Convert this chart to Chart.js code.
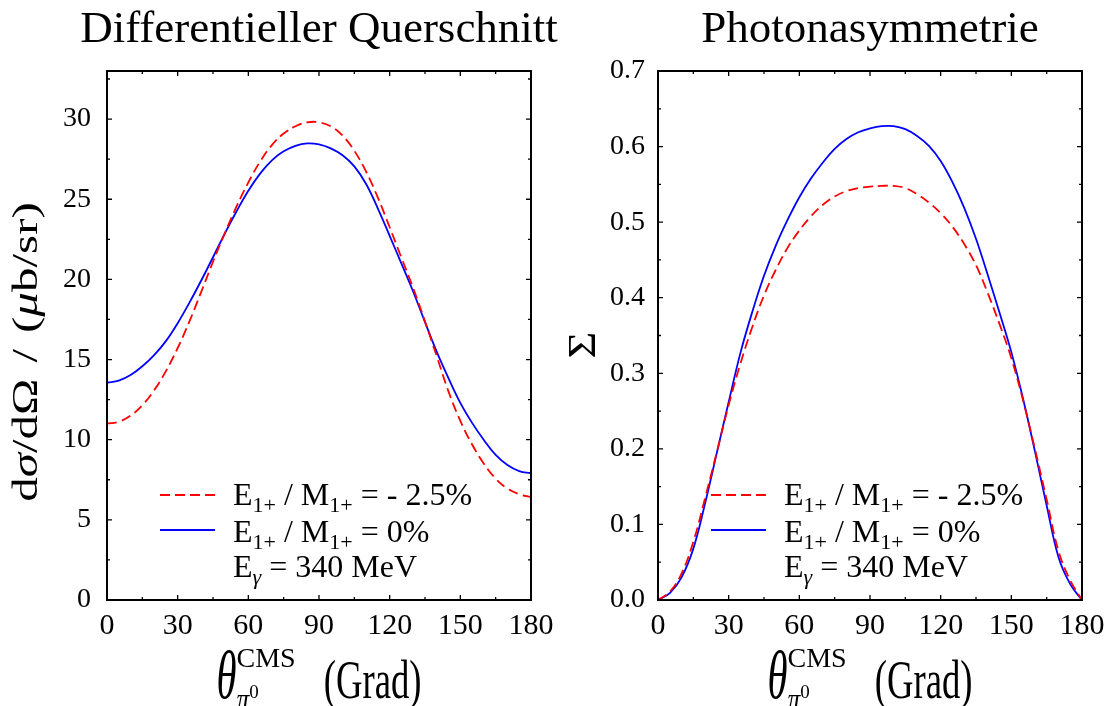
<!DOCTYPE html>
<html>
<head>
<meta charset="utf-8">
<script src="https://cdn.jsdelivr.net/npm/chart.js@4"></script>
<style>
  body { margin: 0; background: #fff; }
  #wrap { position: relative; width: 1107px; height: 706px; }
  #wrap canvas { position: absolute; left: 0; top: 0; }
  .box { position: absolute; left: 0; top: 0; width: 1107px; height: 706px; }
</style>
</head>
<body>
<div id="wrap">
  <div class="box"><canvas id="left"></canvas></div>
  <div class="box"><canvas id="right"></canvas></div>
</div>
<script>
// pion angle in CMS (Grad)
const angles = [0, 5, 10, 15, 20, 25, 30, 35, 40, 45, 50, 55, 60, 65, 70, 75, 80, 85, 90,
  95, 100, 105, 110, 115, 120, 125, 130, 135, 140, 145, 150, 155, 160, 165, 170, 175, 180];

// dsigma/dOmega in mub/sr, E1+/M1+ = -2.5 %
const dsigmaNeg = [11.0, 11.12, 11.5, 12.15, 13.08, 14.28, 15.72, 17.38, 19.22, 21.1, 22.88, 24.55, 26.05,
  27.35, 28.38, 29.1, 29.55, 29.8, 29.8, 29.55, 28.97, 28.02, 26.72, 25.1, 23.25, 21.35, 19.45, 17.38,
  15.2, 13.0, 11.17, 9.7, 8.5, 7.57, 6.95, 6.6, 6.42];
// dsigma/dOmega in mub/sr, E1+/M1+ = 0 %
const dsigmaZero = [13.55, 13.68, 14.03, 14.58, 15.28, 16.15, 17.27, 18.55, 19.93, 21.38, 22.86, 24.25, 25.53,
  26.6, 27.43, 27.99, 28.33, 28.48, 28.42, 28.17, 27.74, 27.05, 25.95, 24.42, 22.72, 20.98, 19.23, 17.33,
  15.48, 13.83, 12.3, 11.05, 9.98, 9.05, 8.42, 8.04, 7.9];

// photon asymmetry Sigma, E1+/M1+ = -2.5 %
const asymNeg = [0, 0.011, 0.035, 0.077, 0.135, 0.196, 0.258, 0.313, 0.361, 0.403, 0.437, 0.466, 0.489,
  0.508, 0.523, 0.534, 0.541, 0.545, 0.547, 0.548, 0.548, 0.545, 0.537, 0.526, 0.512, 0.494, 0.471,
  0.443, 0.406, 0.365, 0.32, 0.264, 0.2, 0.133, 0.065, 0.026, 0];
// photon asymmetry Sigma, E1+/M1+ = 0 %
const asymZero = [0, 0.009, 0.03, 0.068, 0.128, 0.195, 0.262, 0.327, 0.381, 0.429, 0.469, 0.503, 0.533,
  0.558, 0.579, 0.597, 0.61, 0.619, 0.624, 0.627, 0.627, 0.623, 0.614, 0.601, 0.581, 0.553, 0.519,
  0.478, 0.43, 0.38, 0.328, 0.266, 0.197, 0.125, 0.057, 0.021, 0];

const xTicks = [0, 30, 60, 90, 120, 150, 180];
const yTicksLeft = [0, 5, 10, 15, 20, 25, 30];
const yTicksRight = [0, 0.1, 0.2, 0.3, 0.4, 0.5, 0.6, 0.7];

const SERIF = '"Liberation Serif", "DejaVu Serif", serif';

function fontOf(p) {
  return (p.it ? 'italic ' : '') + (p.size || 30) + 'px ' + SERIF;
}

// lay out text runs; "mark" sets an anchor, "back" restarts at that anchor (stacked sub/sup)
function layoutRich(ctx, parts) {
  let cur = 0, anchor = 0;
  const items = [];
  for (const p of parts) {
    ctx.font = fontOf(p);
    const w = (p.t ? ctx.measureText(p.t).width : 0) * (p.sx || 1) + (p.gap || 0);
    const x = p.back ? anchor : cur;
    if (p.mark) anchor = x;
    items.push({ p, x });
    cur = p.back ? Math.max(cur, x + w) : x + w;
  }
  return { items, width: cur };
}

function drawRich(ctx, parts, x, y, o = {}) {
  const L = layoutRich(ctx, parts);
  ctx.save();
  ctx.translate(x, y);
  if (o.rot) ctx.rotate(o.rot);
  ctx.scale(o.sx || 1, o.sy || 1);
  const off = o.align === 'center' ? -L.width / 2 : o.align === 'right' ? -L.width : 0;
  ctx.fillStyle = '#000';
  ctx.textAlign = 'left';
  ctx.textBaseline = 'alphabetic';
  for (const it of L.items) {
    if (!it.p.t) continue;
    ctx.save();
    ctx.translate(off + it.x, it.p.dy || 0);
    ctx.scale(it.p.sx || 1, 1);
    ctx.font = fontOf(it.p);
    ctx.fillText(it.p.t, 0, 0);
    ctx.restore();
  }
  ctx.restore();
}

const legendText = (pct) => [
  { t: 'E', size: 32 }, { t: '1+', size: 22, dy: 7 }, { t: ' / M', size: 32 },
  { t: '1+', size: 22, dy: 7 }, { t: ' = ' + pct, size: 32 }
];
const energyText = [
  { t: 'E', size: 32 }, { t: 'γ', size: 22, it: true, dy: 7 }, { t: ' = 340 MeV', size: 32 }
];
const xTitle = [
  { t: 'θ', size: 68, it: true, sx: 0.6 },
  { t: 'π', size: 32, it: true, sx: 0.8, dy: 12, mark: true },
  { t: '0', size: 19, dy: 0 },
  { t: 'CMS', size: 28, dy: -31, back: true },
  { gap: 28 },
  { t: '(Grad)', size: 54, sx: 0.68 }
];
const dsigmaTitle = [
  { t: 'd', size: 49 }, { t: 'σ', size: 49, it: true }, { t: '/dΩ', size: 49 }, { gap: 16 },
  { t: '/', size: 49 }, { gap: 16 }, { t: '(', size: 49 }, { t: 'μ', size: 49, it: true },
  { t: 'b/sr)', size: 49 }
];

// frame with inward ticks, titles, legend
const decor = {
  id: 'decor',
  afterDatasetsDraw(chart, args, o) {
    const { ctx, chartArea: a, scales: { x, y } } = chart;
    ctx.save();
    ctx.strokeStyle = '#000';
    ctx.lineWidth = 2;
    ctx.strokeRect(a.left, a.top, a.right - a.left, a.bottom - a.top);
    ctx.lineWidth = 1.3;
    ctx.beginPath();
    for (let v = 0; v <= 180 + 1e-9; v += 15) {
      const len = v % 30 === 0 ? 5 : 3;
      const px = x.getPixelForValue(v);
      ctx.moveTo(px, a.bottom); ctx.lineTo(px, a.bottom - len);
      ctx.moveTo(px, a.top); ctx.lineTo(px, a.top + len);
    }
    for (let i = 0; i * o.yMinor <= o.yMax + 1e-9; i++) {
      const len = i % 2 === 0 ? 5 : 3;
      const py = y.getPixelForValue(i * o.yMinor);
      ctx.moveTo(a.left, py); ctx.lineTo(a.left + len, py);
      ctx.moveTo(a.right, py); ctx.lineTo(a.right - len, py);
    }
    ctx.stroke();

    const cx = (a.left + a.right) / 2;
    drawRich(ctx, [{ t: o.title, size: 45 }], cx, 42, { align: 'center' });
    drawRich(ctx, xTitle, cx, 698, { align: 'center' });
    drawRich(ctx, o.yTitle, o.yTitleX, o.yTitleY, { align: 'center', rot: -Math.PI / 2, sy: o.yTitleSy });

    // legend
    const lx = a.left + 53, tx = a.left + 126;
    ctx.lineWidth = 1.8;
    ctx.strokeStyle = '#ff0000';
    ctx.setLineDash([10, 5]);
    ctx.beginPath(); ctx.moveTo(lx, a.bottom - 105); ctx.lineTo(lx + 55, a.bottom - 105); ctx.stroke();
    ctx.setLineDash([]);
    ctx.strokeStyle = '#0000ff';
    ctx.beginPath(); ctx.moveTo(lx, a.bottom - 70); ctx.lineTo(lx + 55, a.bottom - 70); ctx.stroke();
    drawRich(ctx, legendText('- 2.5%'), tx, a.bottom - 95);
    drawRich(ctx, legendText('0%'), tx, a.bottom - 58);
    drawRich(ctx, energyText, tx, a.bottom - 23);
    ctx.restore();
  }
};

function makeChart(id, o) {
  return new Chart(document.getElementById(id), {
    type: 'line',
    data: {
      datasets: [
        {
          data: angles.map((a, i) => ({ x: a, y: o.neg[i] })),
          borderColor: '#ff0000', borderWidth: 1.8, borderDash: [10, 5],
          pointRadius: 0, tension: 0.4, fill: false
        },
        {
          data: angles.map((a, i) => ({ x: a, y: o.zero[i] })),
          borderColor: '#0000ff', borderWidth: 1.8,
          pointRadius: 0, tension: 0.4, fill: false
        }
      ]
    },
    options: {
      responsive: true,
      maintainAspectRatio: false,
      animation: false,
      events: [],
      layout: { padding: { top: 71, right: o.padRight, left: 0, bottom: 0 } },
      plugins: {
        legend: { display: false },
        tooltip: { enabled: false },
        decor: o.decor
      },
      scales: {
        x: {
          type: 'linear', min: 0, max: 180,
          grid: { display: false, drawTicks: false },
          border: { display: false },
          ticks: { color: '#000', font: { family: SERIF, size: 30 }, padding: 8, maxRotation: 0 },
          afterBuildTicks: s => { s.ticks = xTicks.map(v => ({ value: v })); },
          afterFit: s => { s.height = 106; s.paddingLeft = 0; s.paddingRight = 0; }
        },
        y: {
          type: 'linear', min: 0, max: o.yMax,
          grid: { display: false, drawTicks: false },
          border: { display: false },
          ticks: { color: '#000', font: { family: SERIF, size: 28 }, padding: o.tickPad, callback: o.fmt },
          afterBuildTicks: s => { s.ticks = o.yTicks.map(v => ({ value: v })); },
          afterFit: s => { s.width = o.yWidth; s.paddingTop = 0; s.paddingBottom = 0; }
        }
      }
    },
    plugins: [decor]
  });
}

makeChart('left', {
  neg: dsigmaNeg, zero: dsigmaZero, yMax: 33, yTicks: yTicksLeft,
  fmt: v => String(v), yWidth: 107, padRight: 576, tickPad: 16,
  decor: {
    title: 'Differentieller Querschnitt', yMax: 33, yMinor: 2.5,
    yTitle: dsigmaTitle, yTitleX: 37, yTitleY: 352, yTitleSy: 0.73
  }
});

makeChart('right', {
  neg: asymNeg, zero: asymZero, yMax: 0.7, yTicks: yTicksRight,
  fmt: v => v.toFixed(1), yWidth: 658, padRight: 25, tickPad: 13,
  decor: {
    title: 'Photonasymmetrie', yMax: 0.7, yMinor: 0.05,
    yTitle: [{ t: 'Σ', size: 46 }], yTitleX: 595, yTitleY: 345, yTitleSy: 0.85
  }
});
</script>
</body>
</html>
